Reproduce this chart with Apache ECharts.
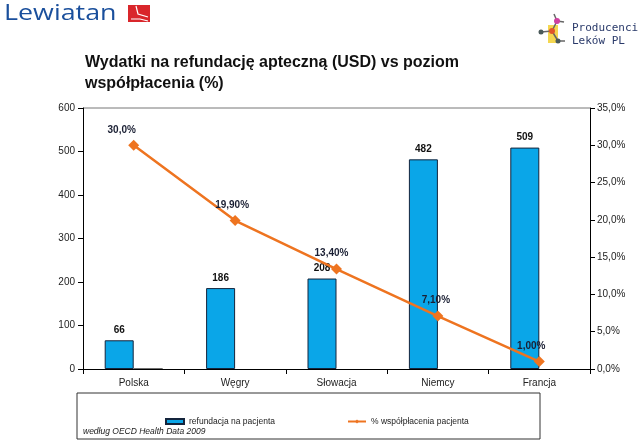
<!DOCTYPE html>
<html><head><meta charset="utf-8">
<script src="https://cdn.jsdelivr.net/npm/echarts@6/dist/echarts.min.js"></script>
<style>html,body{margin:0;padding:0;background:#fff}#c{width:640px;height:441px}</style>
</head><body><div id="c"></div>
<script>
const categories = ['Polska', 'Węgry', 'Słowacja', 'Niemcy', 'Francja'];
const refundValues = [66, 186, 208, 482, 509];
const extraBarValues = [1.5, 0, 0, 0, 0];
const copayValues = [30.0, 19.9, 13.4, 7.1, 1.0];
const copayLabels = ['30,0%', '19,90%', '13,40%', '7,10%', '1,00%'];
const rightTicks = ['0,0%', '5,0%', '10,0%', '15,0%', '20,0%', '25,0%', '30,0%', '35,0%'];

const labelShift = [-12, -3, -5, -2, -8];

const chart = echarts.init(document.getElementById('c'), null, {renderer: 'canvas'});
const font = 'Liberation Sans, Arial, sans-serif';
chart.setOption({
  animation: false,
  textStyle: {fontFamily: font},
  grid: {left: 83, right: 50, top: 108, bottom: 72, show: false},
  title: {
    text: 'Wydatki na refundację apteczną (USD) vs poziom\nwspółpłacenia (%)',
    left: 80, top: 47,
    textStyle: {fontFamily: font, fontSize: 16, fontWeight: 'bold', color: '#111', lineHeight: 21}
  },
  legend: {
    data: [{name: 'refundacja na pacjenta', icon: 'rect'}, {name: '% współpłacenia pacjenta'}],
    left: 160, top: 412, itemGap: 72, itemWidth: 18, itemHeight: 5,
    textStyle: {fontSize: 8.5, color: '#222', fontFamily: font}
  },
  xAxis: {
    type: 'category', data: categories,
    axisLine: {lineStyle: {color: '#000', width: 1}},
    axisTick: {show: true, length: 5, lineStyle: {color: '#000'}},
    axisLabel: {fontSize: 10, color: '#222', margin: 9}
  },
  yAxis: [
    {type: 'value', min: 0, max: 600, interval: 100,
     axisLine: {show: true, lineStyle: {color: '#000'}},
     axisTick: {show: true, length: 5, lineStyle: {color: '#000'}},
     splitLine: {show: false},
     axisLabel: {fontSize: 10, color: '#222', margin: 8}},
    {type: 'value', min: 0, max: 35, interval: 5, position: 'right',
     axisLine: {show: true, lineStyle: {color: '#000'}},
     axisTick: {show: true, length: 5, lineStyle: {color: '#000'}},
     splitLine: {show: false},
     axisLabel: {fontSize: 10, color: '#222', margin: 7,
       formatter: v => rightTicks[Math.round(v / 5)]}}
  ],
  series: [
    {name: 'refundacja na pacjenta', type: 'bar', data: refundValues,
     barWidth: 29, barGap: '0%',
     itemStyle: {color: '#0AA6E8', borderColor: '#14243c', borderWidth: 1},
     label: {show: true, position: 'top', fontSize: 10, fontWeight: 'bold', color: '#111', distance: 5}},
    {name: 'extra', type: 'bar', data: extraBarValues, barWidth: 29, barGap: '0%',
     itemStyle: {color: '#222'}, label: {show: false}},
    {name: '% współpłacenia pacjenta', type: 'line', yAxisIndex: 1,
     data: copayValues.map((v, i) => ({value: v, label: {offset: [labelShift[i], 0]}})),
     symbol: 'diamond', symbolSize: 11,
     lineStyle: {color: '#EE7420', width: 2.5},
     itemStyle: {color: '#EE7420'},
     label: {show: true, position: 'top', distance: 5, fontSize: 10, fontWeight: 'bold',
       color: '#1a1f33', formatter: p => copayLabels[p.dataIndex]},
     z: 5}
  ],
  graphic: [
    {type: 'line', shape: {x1: 83, y1: 108, x2: 590, y2: 108}, style: {stroke: '#777', lineWidth: 1}},
    {type: 'rect', shape: {x: 77, y: 393, width: 463, height: 46}, style: {fill: 'none', stroke: '#333', lineWidth: 1}},
    {type: 'text', left: 83, top: 427, style: {text: 'według OECD Health Data 2009', font: 'italic 8.5px ' + font, fill: '#222'}},
    {type: 'text', x: 4, y: 3, scaleX: 1.22, style: {text: 'Lewiatan', font: '500 22px "Open Sans", sans-serif', fill: '#1a4f9c'}},
    {type: 'rect', shape: {x: 128, y: 5, width: 22, height: 17}, style: {fill: '#d9262b'}},
    {type: 'polyline', shape: {points: [[136, 6], [138, 14], [148, 17]]}, style: {stroke: '#fff', lineWidth: 1.2, fill: 'none'}},
    {type: 'polyline', shape: {points: [[131, 19], [140, 19], [148, 21]]}, style: {stroke: '#fff', lineWidth: 1.2, fill: 'none'}},
    {type: 'text', left: 572, top: 22, style: {text: 'Producenci\nLeków PL', font: '11px "DejaVu Sans Mono", monospace', fill: '#2a3a6a', lineHeight: 13}},
    {type: 'rect', shape: {x: 548, y: 25, width: 10, height: 18}, style: {fill: '#f4d750'}},
    {type: 'line', shape: {x1: 541, y1: 32, x2: 552, y2: 31}, style: {stroke: '#666', lineWidth: 1.5}},
    {type: 'line', shape: {x1: 552, y1: 31, x2: 557, y2: 21}, style: {stroke: '#666', lineWidth: 1.5}},
    {type: 'line', shape: {x1: 552, y1: 31, x2: 558, y2: 41}, style: {stroke: '#666', lineWidth: 1.5}},
    {type: 'line', shape: {x1: 557, y1: 21, x2: 554, y2: 14}, style: {stroke: '#666', lineWidth: 1.5}},
    {type: 'line', shape: {x1: 557, y1: 21, x2: 564, y2: 22}, style: {stroke: '#666', lineWidth: 1.5}},
    {type: 'line', shape: {x1: 558, y1: 41, x2: 565, y2: 41}, style: {stroke: '#666', lineWidth: 1.5}},
    {type: 'circle', shape: {cx: 541, cy: 32, r: 2.5}, style: {fill: '#4a5a5a'}},
    {type: 'circle', shape: {cx: 552, cy: 31, r: 3}, style: {fill: '#e0552a'}},
    {type: 'circle', shape: {cx: 557, cy: 21, r: 3}, style: {fill: '#d040a0'}},
    {type: 'circle', shape: {cx: 558, cy: 41, r: 2.5}, style: {fill: '#4a5a5a'}}
  ]
});
</script></body></html>
